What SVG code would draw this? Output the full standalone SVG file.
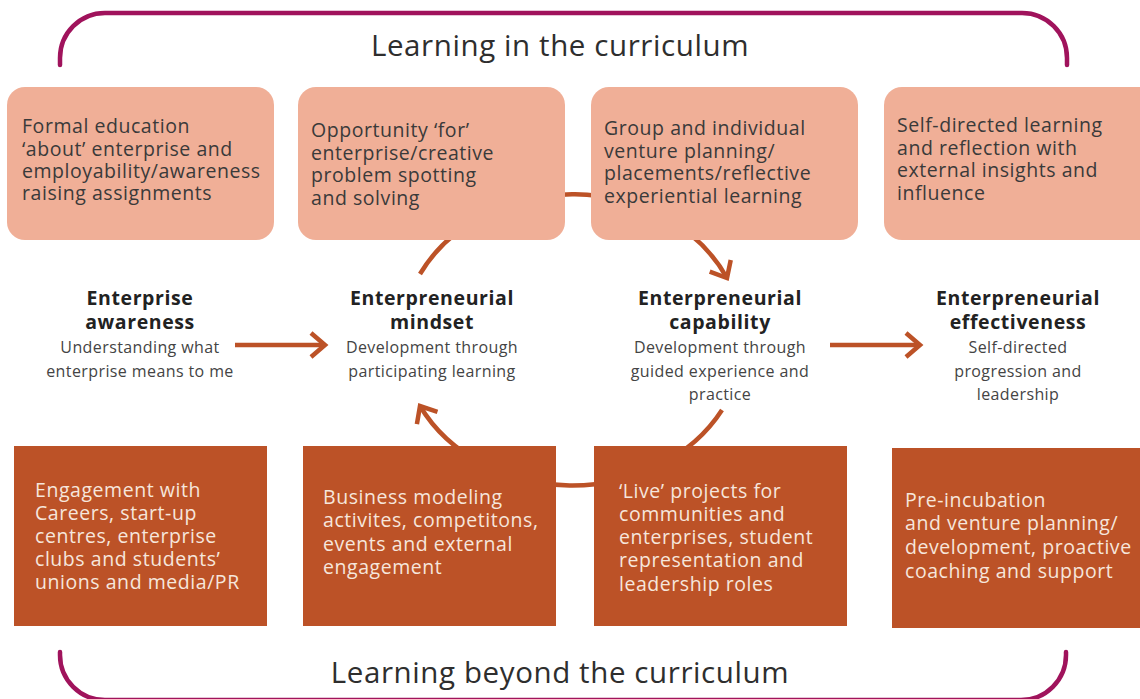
<svg xmlns="http://www.w3.org/2000/svg" width="1140" height="699" viewBox="0 0 1140 699">
<defs>
<style>
.br{fill:none;stroke:#A0135C;stroke-width:4.5;stroke-linecap:round}
.title{font-family:"Open Sans","Liberation Sans",sans-serif;font-size:29.5px;letter-spacing:0.6px;fill:#2e2e2e;text-anchor:middle}
.tb{fill:#F0AF97}
.bb{fill:#BC5227}
.tt{font-family:"Open Sans","Liberation Sans",sans-serif;font-size:19.5px;letter-spacing:0.55px;fill:#3a3a3a}
.bt{font-family:"Open Sans","Liberation Sans",sans-serif;font-size:19.5px;letter-spacing:0.55px;fill:#F6E6DC}
.hd{font-family:"Open Sans","Liberation Sans",sans-serif;font-size:19.5px;font-weight:bold;letter-spacing:0.6px;fill:#222;text-anchor:middle}
.sb{font-family:"Open Sans","Liberation Sans",sans-serif;font-size:16px;letter-spacing:0.4px;fill:#444;text-anchor:middle}
.con{fill:none;stroke:#BC5227;stroke-width:4.5}
</style>
<marker id="ah" markerUnits="userSpaceOnUse" viewBox="-20 -14 24 28" markerWidth="24" markerHeight="28" refX="0" refY="0" orient="auto">
<path d="M-14,-12 L0,0 L-14,12" fill="none" stroke="#BC5227" stroke-width="4.5"/>
</marker>
</defs>
<rect width="1140" height="699" fill="#fff"/>

<g id="brackets">
<path class="br" d="M60,65 V58 A45,45 0 0 1 105,13 H1022 A45,45 0 0 1 1067,58 V65"/>
<path class="br" d="M60,652 V655 A45,45 0 0 0 105,700 H1021 A45,45 0 0 0 1066,655 V652"/>
</g>
<text class="title" x="560" y="56">Learning in the curriculum</text>
<text class="title" x="560" y="683">Learning beyond the curriculum</text>

<g id="connectors">
<path class="con" d="M420,274 A171,146 0 0 1 727,278" marker-end="url(#ah)"/>
<path class="con" d="M722,410 A171,146 0 0 1 420,406" marker-end="url(#ah)"/>
<path class="con" d="M235,345 H325" marker-end="url(#ah)"/>
<path class="con" d="M830,345 H920" marker-end="url(#ah)"/>
</g>

<g id="top1"><rect class="tb" x="7" y="87" width="267" height="153" rx="18"/>
<text class="tt"><tspan x="22" y="133">Formal education</tspan><tspan x="22" y="156">‘about’ enterprise and</tspan><tspan x="22" y="178">employability/awareness</tspan><tspan x="22" y="200">raising assignments</tspan></text></g>
<g id="top2"><rect class="tb" x="298" y="87" width="267" height="153" rx="18"/>
<text class="tt"><tspan x="311" y="137">Opportunity ‘for’</tspan><tspan x="311" y="160">enterprise/creative</tspan><tspan x="311" y="182">problem spotting</tspan><tspan x="311" y="205">and solving</tspan></text></g>
<g id="top3"><rect class="tb" x="591" y="87" width="267" height="153" rx="18"/>
<text class="tt"><tspan x="604" y="135">Group and individual</tspan><tspan x="604" y="158">venture planning/</tspan><tspan x="604" y="180">placements/reflective</tspan><tspan x="604" y="203">experiential learning</tspan></text></g>
<g id="top4"><rect class="tb" x="884" y="87" width="280" height="153" rx="18"/>
<text class="tt"><tspan x="897" y="132">Self-directed learning</tspan><tspan x="897" y="155">and reflection with</tspan><tspan x="897" y="177">external insights and</tspan><tspan x="897" y="200">influence</tspan></text></g>

<g id="stage1"><text class="hd"><tspan x="140" y="305">Enterprise</tspan><tspan x="140" y="329">awareness</tspan></text>
<text class="sb"><tspan x="140" y="353">Understanding what</tspan><tspan x="140" y="377">enterprise means to me</tspan></text></g>
<g id="stage2"><text class="hd"><tspan x="432" y="305">Enterpreneurial</tspan><tspan x="432" y="329">mindset</tspan></text>
<text class="sb"><tspan x="432" y="353">Development through</tspan><tspan x="432" y="377">participating learning</tspan></text></g>
<g id="stage3"><text class="hd"><tspan x="720" y="305">Enterpreneurial</tspan><tspan x="720" y="329">capability</tspan></text>
<text class="sb"><tspan x="720" y="353">Development through</tspan><tspan x="720" y="377">guided experience and</tspan><tspan x="720" y="400">practice</tspan></text></g>
<g id="stage4"><text class="hd"><tspan x="1018" y="305">Enterpreneurial</tspan><tspan x="1018" y="329">effectiveness</tspan></text>
<text class="sb"><tspan x="1018" y="353">Self-directed</tspan><tspan x="1018" y="377">progression and</tspan><tspan x="1018" y="400">leadership</tspan></text></g>

<g id="bot1"><rect class="bb" x="14" y="446" width="253" height="180"/>
<text class="bt"><tspan x="35" y="497">Engagement with</tspan><tspan x="35" y="520">Careers, start-up</tspan><tspan x="35" y="543">centres, enterprise</tspan><tspan x="35" y="566">clubs and students’</tspan><tspan x="35" y="589">unions and media/PR</tspan></text></g>
<g id="bot2"><rect class="bb" x="303" y="446" width="253" height="180"/>
<text class="bt"><tspan x="323" y="504">Business modeling</tspan><tspan x="323" y="527">activites, competitons,</tspan><tspan x="323" y="551">events and external</tspan><tspan x="323" y="574">engagement</tspan></text></g>
<g id="bot3"><rect class="bb" x="594" y="446" width="253" height="180"/>
<text class="bt"><tspan x="619" y="498">‘Live’ projects for</tspan><tspan x="619" y="521">communities and</tspan><tspan x="619" y="544">enterprises, student</tspan><tspan x="619" y="567">representation and</tspan><tspan x="619" y="591">leadership roles</tspan></text></g>
<g id="bot4"><rect class="bb" x="892" y="448" width="260" height="180"/>
<text class="bt"><tspan x="905" y="507">Pre-incubation</tspan><tspan x="905" y="530">and venture planning/</tspan><tspan x="905" y="554">development, proactive</tspan><tspan x="905" y="578">coaching and support</tspan></text></g>
</svg>
